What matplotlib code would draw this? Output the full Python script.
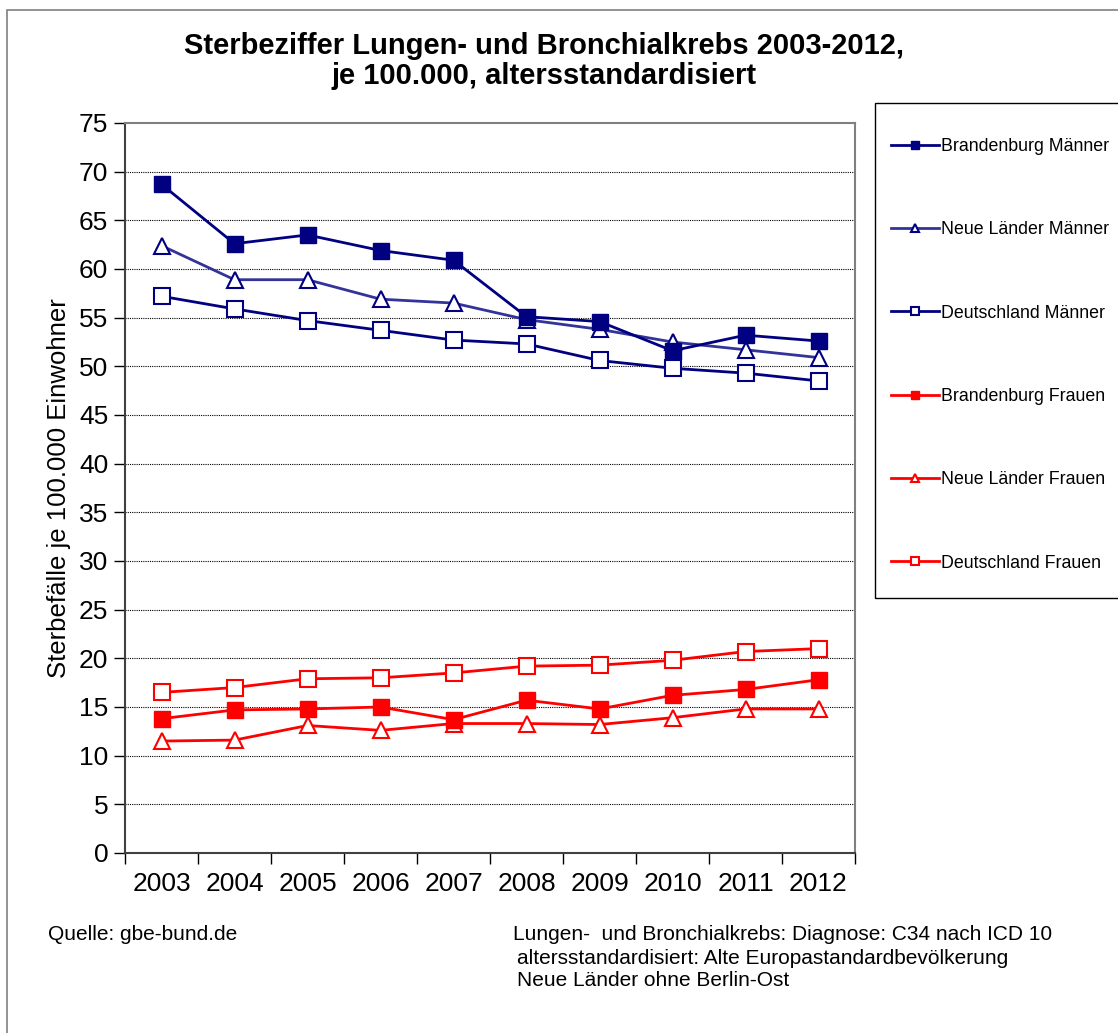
import numpy as np
import matplotlib
matplotlib.use("Agg")
import matplotlib.pyplot as plt
from matplotlib.patches import Rectangle
from matplotlib.ticker import MultipleLocator, FixedLocator

plt.rcParams['font.family'] = ['Liberation Sans', 'DejaVu Sans']

years = ['2003', '2004', '2005', '2006', '2007', '2008', '2009', '2010', '2011', '2012']

bb_maenner = [68.7, 62.6, 63.5, 61.9, 60.9, 55.1, 54.6, 51.6, 53.2, 52.6]
nl_maenner = [62.4, 58.9, 58.9, 56.9, 56.5, 54.8, 53.8, 52.5, 51.7, 50.9]
de_maenner = [57.2, 55.9, 54.7, 53.7, 52.7, 52.3, 50.6, 49.8, 49.3, 48.5]
bb_frauen = [13.8, 14.7, 14.8, 15.0, 13.7, 15.7, 14.8, 16.2, 16.8, 17.8]
nl_frauen = [11.5, 11.6, 13.1, 12.6, 13.3, 13.3, 13.2, 13.9, 14.8, 14.8]
de_frauen = [16.5, 17.0, 17.9, 18.0, 18.5, 19.2, 19.3, 19.8, 20.7, 21.0]

W, H = 1118, 1033
fig = plt.figure(figsize=(W / 100, H / 100), dpi=100)

# outer chart border (Excel chart area)
fig.patches.append(Rectangle((7 / W, -0.1), 1.2, 1 - 10 / H + 0.1, transform=fig.transFigure,
                             fill=False, edgecolor='#808080', linewidth=1.2))

ax = fig.add_axes([125 / W, 1 - 853 / H, 730 / W, 730 / H])
x = np.arange(len(years))

navy = '#000080'
blue2 = '#333399'
red = '#FF0000'
ms = 11.5
lw = 2.0

ax.plot(x, bb_maenner, color=navy, lw=lw, marker='s', ms=ms, mfc=navy, mec=navy,
        label='Brandenburg Männer', zorder=5)
ax.plot(x, nl_maenner, color=blue2, lw=lw, marker='^', ms=ms, mfc='white', mec=navy,
        mew=1.5, label='Neue Länder Männer', zorder=4)
ax.plot(x, de_maenner, color=navy, lw=lw, marker='s', ms=ms, mfc='white', mec=navy,
        mew=1.5, label='Deutschland Männer', zorder=3)
ax.plot(x, bb_frauen, color=red, lw=lw, marker='s', ms=ms, mfc=red, mec=red,
        label='Brandenburg Frauen', zorder=5)
ax.plot(x, nl_frauen, color=red, lw=lw, marker='^', ms=ms, mfc='white', mec=red,
        mew=1.5, label='Neue Länder Frauen', zorder=4)
ax.plot(x, de_frauen, color=red, lw=lw, marker='s', ms=ms, mfc='white', mec=red,
        mew=1.5, label='Deutschland Frauen', zorder=3)

ax.set_xlim(-0.5, len(years) - 0.5)
ax.set_ylim(0, 75)
ax.yaxis.set_major_locator(MultipleLocator(5))
ax.set_xticks(x)
ax.set_xticklabels(years, fontsize=19)
ax.xaxis.set_minor_locator(FixedLocator(np.arange(-0.5, len(years), 1.0)))
ax.tick_params(axis='x', which='major', length=0, pad=14)
ax.tick_params(axis='x', which='minor', length=8, direction='out', width=1)
ax.tick_params(axis='y', labelsize=19, length=8, direction='out', width=1, pad=4)

for v in range(5, 75, 5):
    ax.axhline(v, color='black', lw=0.8, ls=(0, (1, 1)), zorder=1)

for side in ['top', 'right']:
    ax.spines[side].set_color('#808080')
    ax.spines[side].set_linewidth(1.5)
for side in ['left', 'bottom']:
    ax.spines[side].set_color('#404040')
    ax.spines[side].set_linewidth(1.5)

ax.set_ylabel('Sterbefälle je 100.000 Einwohner', fontsize=18.5, labelpad=5.5)

fig.text(544 / W, 1 - 61 / H, 'Sterbeziffer Lungen- und Bronchialkrebs 2003-2012,\nje 100.000, altersstandardisiert',
         ha='center', va='center', fontsize=21, fontweight='bold', linespacing=1.1)

# legend box
fig.patches.append(Rectangle((875 / W, 1 - 598 / H), 1.0, 495 / H, transform=fig.transFigure,
                             fill=False, edgecolor='black', linewidth=1))
handles, labels = ax.get_legend_handles_labels()
fig.legend(handles, labels, loc='upper left', bbox_to_anchor=(891 / W, 1 - 138 / H),
           frameon=False, fontsize=12.8, markerscale=0.55, handlelength=2.7,
           handletextpad=0.1, labelspacing=3.73, borderpad=0, borderaxespad=0)

fig.text(48 / W, 1 - 935 / H, 'Quelle: gbe-bund.de', fontsize=15, va='center')
fig.text(513 / W, 1 - 935 / H, 'Lungen-  und Bronchialkrebs: Diagnose: C34 nach ICD 10', fontsize=15, va='center')
fig.text(517 / W, 1 - 958 / H, 'altersstandardisiert: Alte Europastandardbevölkerung', fontsize=15, va='center')
fig.text(517 / W, 1 - 980 / H, 'Neue Länder ohne Berlin-Ost', fontsize=15, va='center')

fig.savefig('out.png', dpi=100)
